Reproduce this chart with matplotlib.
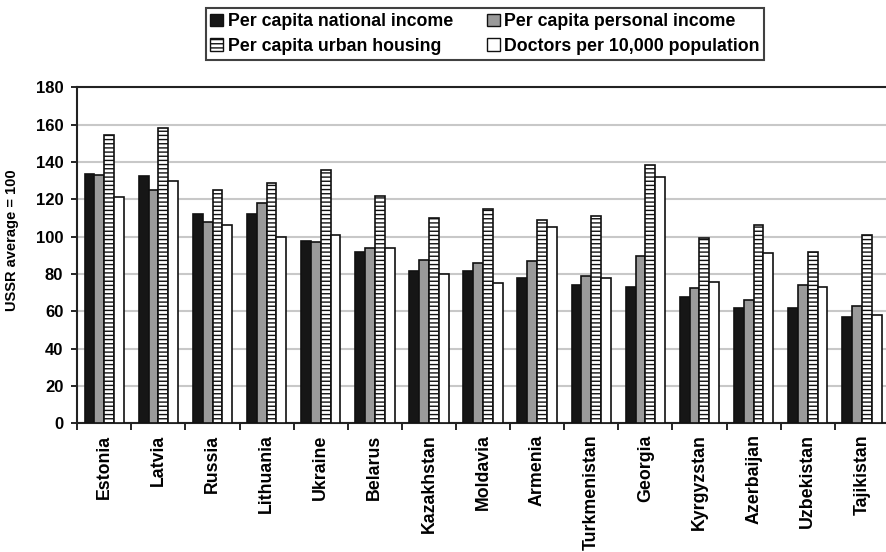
import matplotlib
matplotlib.use("Agg")
import matplotlib.pyplot as plt
import numpy as np
from matplotlib.patches import Patch

plt.rcParams["font.family"] = ["Liberation Sans", "DejaVu Sans"]
plt.rcParams["font.weight"] = "bold"
plt.rcParams["hatch.linewidth"] = 1.0

REPUBLICS = [
    "Estonia", "Latvia", "Russia", "Lithuania", "Ukraine", "Belarus",
    "Kazakhstan", "Moldavia", "Armenia", "Turkmenistan", "Georgia",
    "Kyrgyzstan", "Azerbaijan", "Uzbekistan", "Tajikistan",
]
national_income = [133.5, 132.5, 112, 112, 97.5, 91.5, 81.5, 81.5, 78, 74, 73, 67.5, 61.5, 61.5, 57]
personal_income = [133, 125, 108, 118, 97, 94, 87.5, 86, 87, 79, 89.5, 72.5, 66, 74, 63]
urban_housing = [154.5, 158, 125, 128.5, 135.5, 121.5, 110, 115, 109, 111, 138.5, 99, 106, 92, 101]
doctors = [121, 130, 106, 100, 101, 94, 80, 75, 105, 78, 132, 75.5, 91, 73, 58]

SERIES = [
    ("Per capita national income", national_income, "#161616", None),
    ("Per capita personal income", personal_income, "#9a9a9a", None),
    ("Per capita urban housing", urban_housing, "white", "----"),
    ("Doctors per 10,000 population", doctors, "white", None),
]

fig = plt.figure(figsize=(8.87, 5.52), dpi=100)
ax = fig.add_axes([0.0871, 0.2332, 0.915, 0.6087])

x = np.arange(len(REPUBLICS))
width = 0.182
for i, (label, values, color, hatch) in enumerate(SERIES):
    offset = (i - 1.5) * width
    ax.bar(x + offset, values, width, color=color, edgecolor="#111111",
           linewidth=1.2, hatch=hatch, zorder=3, label=label)

ax.set_xlim(-0.5, len(REPUBLICS) - 0.5)
ax.set_ylim(0, 180)
ax.set_yticks(range(0, 181, 20))
ax.yaxis.grid(True, color="#c8c8c8", linewidth=1.5, zorder=0)
ax.set_axisbelow(True)

ax.set_xticks(x)
ax.set_xticklabels(REPUBLICS, rotation=90, fontsize=12.8, fontweight="bold")
ax.tick_params(axis="x", which="major", length=0, pad=8)
ax.set_xticks(np.arange(-0.5, len(REPUBLICS), 1.0), minor=True)
ax.tick_params(axis="x", which="minor", length=5, width=1.2, direction="out")
ax.tick_params(axis="y", length=4, width=1.2, direction="out", labelsize=12, pad=6)
for lbl in ax.get_yticklabels():
    lbl.set_fontweight("bold")

ax.set_ylabel("USSR average = 100", fontsize=10.5, fontweight="bold")
ax.yaxis.set_label_coords(-0.072, 0.545)

for side in ("left", "bottom", "top"):
    ax.spines[side].set_linewidth(1.5)
    ax.spines[side].set_color("#222222")
ax.spines["right"].set_visible(False)

# two-column legend, filled column-wise
order = [0, 2, 1, 3]
legend_handles = [
    Patch(facecolor=SERIES[k][2], edgecolor="#111111", hatch=SERIES[k][3], linewidth=1.0)
    for k in order
]
legend_labels = [SERIES[k][0] for k in order]
leg = fig.legend(legend_handles, legend_labels, ncol=2, loc="center",
                 bbox_to_anchor=(485 / 887, 1 - 34 / 552),
                 prop={"size": 12.8, "weight": "bold"},
                 handlelength=0.72, handleheight=0.72, handletextpad=0.25,
                 columnspacing=1.9, labelspacing=0.42, borderpad=0.28,
                 frameon=True, fancybox=False, edgecolor="#111111")
leg.get_frame().set_linewidth(1.5)

fig.savefig("out.png", dpi=100)
